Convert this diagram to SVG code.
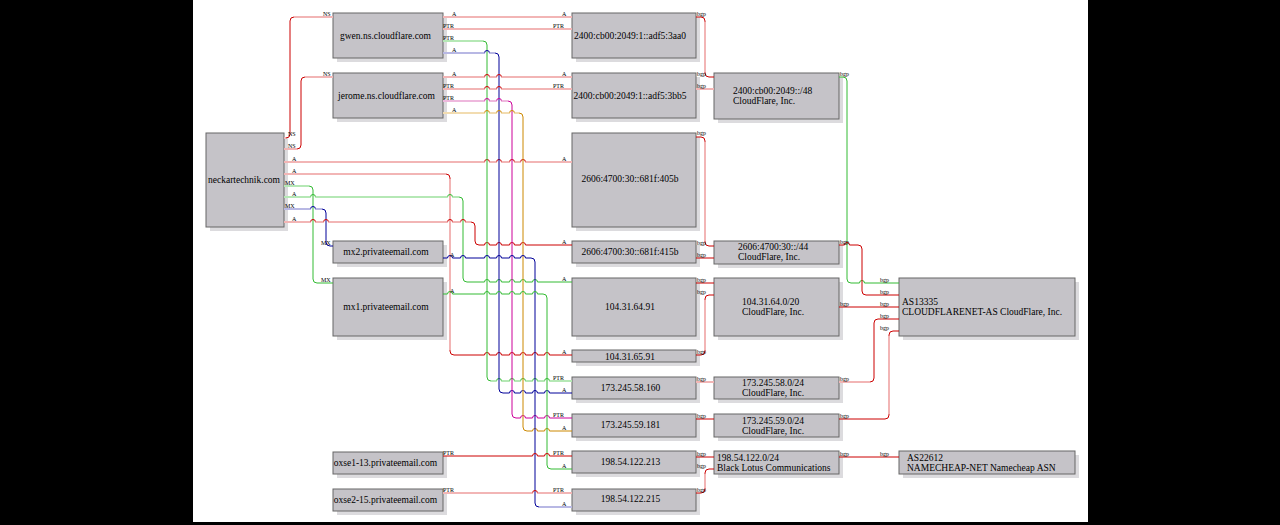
<svg xmlns="http://www.w3.org/2000/svg" width="1280" height="525" viewBox="0 0 1280 525">
<style>
.bg{fill:#000}
.page{fill:#fff}
.s{fill:#dcdbde}
.bx{fill:#c5c3c8;stroke:#666;stroke-width:1}
.n{font-family:"Liberation Serif","Times New Roman",serif;font-size:9.5px;fill:#000}
.c{text-anchor:middle}
.l{font-family:"Liberation Serif","Times New Roman",serif;font-size:6px;fill:#000}
.e{fill:none;stroke-width:1}
.p{fill:none;stroke-width:2}
.r{stroke:#cc0000}.g{stroke:#33bb33}.b{stroke:#000099}.m{stroke:#cc0099}.o{stroke:#cc8800}
.pr{stroke:#f2b5b5}.pg{stroke:#b5e8b5}.pb{stroke:#b8b8e4}.pm{stroke:#eeb8dd}.po{stroke:#f2dcb0}
</style>
<rect class="bg" x="0" y="0" width="1280" height="525"/>
<rect class="page" x="193" y="0" width="895" height="522"/>

<g id="node-gwen"><rect class="s" x="337" y="17" width="110" height="45"/><rect class="bx" x="333" y="13" width="110" height="45"/><text class="n c" x="385.5" y="39">gwen.ns.cloudflare.com</text></g>
<g id="node-jerome"><rect class="s" x="337" y="77" width="110" height="45"/><rect class="bx" x="333" y="73" width="110" height="45"/><text class="n c" x="386.5" y="99">jerome.ns.cloudflare.com</text></g>
<g id="node-neckartechnik"><rect class="s" x="210" y="137" width="78" height="94"/><rect class="bx" x="206" y="133" width="78" height="94"/><text class="n c" x="244" y="183">neckartechnik.com</text></g>
<g id="node-mx2"><rect class="s" x="337" y="245" width="110" height="22"/><rect class="bx" x="333" y="241" width="110" height="22"/><text class="n c" x="386" y="255">mx2.privateemail.com</text></g>
<g id="node-mx1"><rect class="s" x="337" y="282" width="110" height="58"/><rect class="bx" x="333" y="278" width="110" height="58"/><text class="n c" x="386" y="310">mx1.privateemail.com</text></g>
<g id="node-oxse1"><rect class="s" x="337" y="456" width="110" height="22"/><rect class="bx" x="333" y="452" width="110" height="22"/><text class="n c" x="385.5" y="466">oxse1-13.privateemail.com</text></g>
<g id="node-oxse2"><rect class="s" x="337" y="493" width="110" height="22"/><rect class="bx" x="333" y="489" width="110" height="22"/><text class="n c" x="385.5" y="503">oxse2-15.privateemail.com</text></g>

<g id="node-3aa0"><rect class="s" x="576" y="17" width="124" height="45"/><rect class="bx" x="572" y="13" width="124" height="45"/><text class="n c" x="630" y="39">2400:cb00:2049:1::adf5:3aa0</text></g>
<g id="node-3bb5"><rect class="s" x="576" y="77" width="124" height="45"/><rect class="bx" x="572" y="73" width="124" height="45"/><text class="n c" x="630" y="99">2400:cb00:2049:1::adf5:3bb5</text></g>
<g id="node-405b"><rect class="s" x="576" y="137" width="124" height="94"/><rect class="bx" x="572" y="133" width="124" height="94"/><text class="n c" x="630" y="182">2606:4700:30::681f:405b</text></g>
<g id="node-415b"><rect class="s" x="576" y="245" width="124" height="22"/><rect class="bx" x="572" y="241" width="124" height="22"/><text class="n c" x="630" y="255">2606:4700:30::681f:415b</text></g>
<g id="node-6491"><rect class="s" x="576" y="282" width="124" height="58"/><rect class="bx" x="572" y="278" width="124" height="58"/><text class="n c" x="630" y="310">104.31.64.91</text></g>
<g id="node-6591"><rect class="s" x="576" y="354" width="124" height="12"/><rect class="bx" x="572" y="350" width="124" height="12"/><text class="n c" x="630" y="359.5">104.31.65.91</text></g>
<g id="node-58160"><rect class="s" x="576" y="381" width="124" height="22"/><rect class="bx" x="572" y="377" width="124" height="22"/><text class="n c" x="630.5" y="391">173.245.58.160</text></g>
<g id="node-59181"><rect class="s" x="576" y="418" width="124" height="23"/><rect class="bx" x="572" y="414" width="124" height="23"/><text class="n c" x="630.5" y="428">173.245.59.181</text></g>
<g id="node-213"><rect class="s" x="576" y="455" width="124" height="22"/><rect class="bx" x="572" y="451" width="124" height="22"/><text class="n c" x="630.5" y="465">198.54.122.213</text></g>
<g id="node-215"><rect class="s" x="576" y="493" width="124" height="22"/><rect class="bx" x="572" y="489" width="124" height="22"/><text class="n c" x="630.5" y="502">198.54.122.215</text></g>

<g id="node-net48"><rect class="s" x="718" y="77" width="125" height="46"/><rect class="bx" x="714" y="73" width="125" height="46"/><text class="n" x="733" y="94">2400:cb00:2049::/48</text><text class="n" x="733" y="104">CloudFlare, Inc.</text></g>
<g id="node-net44"><rect class="s" x="718" y="245" width="125" height="23"/><rect class="bx" x="714" y="241" width="125" height="23"/><text class="n" x="738" y="250">2606:4700:30::/44</text><text class="n" x="738" y="260">CloudFlare, Inc.</text></g>
<g id="node-net20"><rect class="s" x="718" y="282" width="125" height="58"/><rect class="bx" x="714" y="278" width="125" height="58"/><text class="n" x="742" y="305">104.31.64.0/20</text><text class="n" x="742" y="315">CloudFlare, Inc.</text></g>
<g id="node-net58"><rect class="s" x="718" y="381" width="125" height="22"/><rect class="bx" x="714" y="377" width="125" height="22"/><text class="n" x="742" y="386">173.245.58.0/24</text><text class="n" x="742" y="396">CloudFlare, Inc.</text></g>
<g id="node-net59"><rect class="s" x="718" y="418" width="125" height="23"/><rect class="bx" x="714" y="414" width="125" height="23"/><text class="n" x="742" y="423.5">173.245.59.0/24</text><text class="n" x="742" y="433.5">CloudFlare, Inc.</text></g>
<g id="node-net122"><rect class="s" x="718" y="455" width="125" height="23"/><rect class="bx" x="714" y="451" width="125" height="23"/><text class="n" x="717" y="461">198.54.122.0/24</text><text class="n" x="717" y="471">Black Lotus Communications</text></g>
<g id="node-as13335"><rect class="s" x="903" y="282" width="176" height="58"/><rect class="bx" x="899" y="278" width="176" height="58"/><text class="n" x="902" y="305">AS13335</text><text class="n" x="902" y="315">CLOUDFLARENET-AS CloudFlare, Inc.</text></g>
<g id="node-as22612"><rect class="s" x="903" y="455" width="176" height="23"/><rect class="bx" x="899" y="451" width="176" height="23"/><text class="n" x="907" y="461">AS22612</text><text class="n" x="907" y="471">NAMECHEAP-NET Namecheap ASN</text></g>

<g id="connectors">
<path class="e r" d="M284,138 H286 Q290,138 290,134 V21 Q290,17 294,17 H333"/>
<path class="p pr" d="M284,138 H286 M294,17 H333"/>
<path class="e r" d="M284,149 H297 Q301,149 301,145 V81 Q301,77 305,77 H333"/>
<path class="p pr" d="M284,149 H297 M305,77 H333"/>
<path class="e r" d="M284,162 H484.5 a2.5,2.5 0 0 1 5,0 H496.5 a2.5,2.5 0 0 1 5,0 H509.5 a2.5,2.5 0 0 1 5,0 H520.5 a2.5,2.5 0 0 1 5,0 H572"/>
<path class="p pr" d="M284,162 H484.5 M489.5,162 H496.5 M501.5,162 H509.5 M514.5,162 H520.5 M525.5,162 H572"/>
<path class="e r" d="M284,174 H446 Q450,174 450,178 V351 Q450,355 454,355 H484.5 a2.5,2.5 0 0 1 5,0 H496.5 a2.5,2.5 0 0 1 5,0 H509.5 a2.5,2.5 0 0 1 5,0 H520.5 a2.5,2.5 0 0 1 5,0 H532.5 a2.5,2.5 0 0 1 5,0 H544.5 a2.5,2.5 0 0 1 5,0 H572"/>
<path class="p pr" d="M284,174 H446 M450,179 V350"/>
<path class="e g" d="M284,186 H309 Q313,186 313,190 V279 Q313,283 317,283 H333"/>
<path class="p pg" d="M284,186 H309"/>
<path class="e g" d="M284,197 H310.5 a2.5,2.5 0 0 1 5,0 H447.5 a2.5,2.5 0 0 1 5,0 H459 Q463,197 463,201 V278 Q463,282 467,282 H484.5 a2.5,2.5 0 0 1 5,0 H496.5 a2.5,2.5 0 0 1 5,0 H509.5 a2.5,2.5 0 0 1 5,0 H520.5 a2.5,2.5 0 0 1 5,0 H532.5 a2.5,2.5 0 0 1 5,0 H572"/>
<path class="p pg" d="M284,197 H310.5 M315.5,197 H447.5 M452.5,197 H459"/>
<path class="e b" d="M284,209 H310.5 a2.5,2.5 0 0 1 5,0 H322 Q326,209 326,213 V242 Q326,246 330,246 H333"/>
<path class="p pb" d="M284,209 H310.5 M315.5,209 H322"/>
<path class="e r" d="M284,222 H310.5 a2.5,2.5 0 0 1 5,0 H323.5 a2.5,2.5 0 0 1 5,0 H447.5 a2.5,2.5 0 0 1 5,0 H460.5 a2.5,2.5 0 0 1 5,0 H471 Q475,222 475,226 V241 Q475,245 479,245 H484.5 a2.5,2.5 0 0 1 5,0 H496.5 a2.5,2.5 0 0 1 5,0 H509.5 a2.5,2.5 0 0 1 5,0 H520.5 a2.5,2.5 0 0 1 5,0 H572"/>
<path class="p pr" d="M284,222 H310.5 M315.5,222 H323.5 M328.5,222 H447.5 M452.5,222 H460.5 M465.5,222 H471"/>

<path class="p pr" d="M443,17 H572 M443,29 H572"/>
<path class="e g" d="M443,41 H483 Q487,41 487,45 V377 Q487,381 491,381 H496.5 a2.5,2.5 0 0 1 5,0 H509.5 a2.5,2.5 0 0 1 5,0 H520.5 a2.5,2.5 0 0 1 5,0 H532.5 a2.5,2.5 0 0 1 5,0 H544.5 a2.5,2.5 0 0 1 5,0 H572"/>
<path class="p pg" d="M443,41 H483 M491,381 H496.5 M501.5,381 H509.5 M514.5,381 H520.5 M525.5,381 H532.5 M537.5,381 H544.5 M549.5,381 H572"/>
<path class="e b" d="M443,53 H484.5 a2.5,2.5 0 0 1 5,0 H495 Q499,53 499,57 V389 Q499,393 503,393 H509.5 a2.5,2.5 0 0 1 5,0 H520.5 a2.5,2.5 0 0 1 5,0 H532.5 a2.5,2.5 0 0 1 5,0 H544.5 a2.5,2.5 0 0 1 5,0 H572"/>
<path class="p pb" d="M443,53 H484.5 M489.5,53 H495"/>
<path class="e r" d="M443,77 H484.5 a2.5,2.5 0 0 1 5,0 H496.5 a2.5,2.5 0 0 1 5,0 H572 M443,89 H484.5 a2.5,2.5 0 0 1 5,0 H496.5 a2.5,2.5 0 0 1 5,0 H572"/>
<path class="p pr" d="M443,77 H484.5 M489.5,77 H496.5 M501.5,77 H572 M443,89 H484.5 M489.5,89 H496.5 M501.5,89 H572"/>
<path class="e m" d="M443,101 H484.5 a2.5,2.5 0 0 1 5,0 H496.5 a2.5,2.5 0 0 1 5,0 H508 Q512,101 512,105 V414 Q512,418 516,418 H520.5 a2.5,2.5 0 0 1 5,0 H532.5 a2.5,2.5 0 0 1 5,0 H544.5 a2.5,2.5 0 0 1 5,0 H572"/>
<path class="p pm" d="M443,101 H484.5 M489.5,101 H496.5 M501.5,101 H508"/>
<path class="e o" d="M443,113 H484.5 a2.5,2.5 0 0 1 5,0 H496.5 a2.5,2.5 0 0 1 5,0 H509.5 a2.5,2.5 0 0 1 5,0 H519 Q523,113 523,117 V427 Q523,431 527,431 H532.5 a2.5,2.5 0 0 1 5,0 H544.5 a2.5,2.5 0 0 1 5,0 H572"/>
<path class="p po" d="M443,113 H484.5 M489.5,113 H496.5 M501.5,113 H509.5 M514.5,113 H519"/>
<path class="e b" d="M443,258 H447.5 a2.5,2.5 0 0 1 5,0 H460.5 a2.5,2.5 0 0 1 5,0 H484.5 a2.5,2.5 0 0 1 5,0 H496.5 a2.5,2.5 0 0 1 5,0 H509.5 a2.5,2.5 0 0 1 5,0 H520.5 a2.5,2.5 0 0 1 5,0 H531 Q535,258 535,262 V503 Q535,507 539,507 H572"/>
<path class="p pb" d="M539,507 H572"/>
<path class="e g" d="M443,294 H447.5 a2.5,2.5 0 0 1 5,0 H484.5 a2.5,2.5 0 0 1 5,0 H496.5 a2.5,2.5 0 0 1 5,0 H509.5 a2.5,2.5 0 0 1 5,0 H520.5 a2.5,2.5 0 0 1 5,0 H532.5 a2.5,2.5 0 0 1 5,0 H543 Q547,294 547,298 V465 Q547,469 551,469 H572"/>
<path class="e r" d="M443,456 H532.5 a2.5,2.5 0 0 1 5,0 H544.5 a2.5,2.5 0 0 1 5,0 H572"/>
<path class="e r" d="M443,493 H532.5 a2.5,2.5 0 0 1 5,0 H572"/>
<path class="p pr" d="M443,493 H532.5 M537.5,493 H572"/>

<path class="e r" d="M696,17 H701 Q705,17 705,21 V73 Q705,77 709,77 H714"/>
<path class="p pr" d="M705,22 V72 M696,89 H714"/>
<path class="e r" d="M696,137 H701 Q705,137 705,141 V242 Q705,246 709,246 H714"/>
<path class="p pr" d="M705,142 V241"/>
<path class="e r" d="M696,258 H714 M696,283 H714"/>
<path class="e r" d="M696,355 H701 Q705,355 705,351 V299 Q705,295 709,295 H714"/>
<path class="p pr" d="M705,350 V300 M696,382 H714"/>
<path class="e r" d="M696,419 H714 M696,457 H714"/>
<path class="e r" d="M696,493 H701 Q705,493 705,489 V473 Q705,469 709,469 H714"/>
<path class="p pr" d="M705,488 V474"/>
<path class="e g" d="M839,77 H843 Q847,77 847,81 V279 Q847,283 851,283 H859.5 a2.5,2.5 0 0 1 5,0 H899"/>
<path class="e r" d="M839,245 H844.5 a2.5,2.5 0 0 1 5,0 H858 Q862,245 862,249 V291 Q862,295 866,295 H899"/>
<path class="e r" d="M839,307 H899"/>
<path class="e r" d="M839,382 H870 Q874,382 874,378 V323 Q874,319 878,319 H899"/>
<path class="p pr" d="M839,382 H870"/>
<path class="e r" d="M839,419 H885 Q889,419 889,415 V335 Q889,331 893,331 H899"/>
<path class="p pr" d="M889,414 V336"/>
<path class="e r" d="M839,457 H899"/>
</g>

<g id="connector-labels" class="l">
<text x="288" y="136">NS</text><text x="288" y="147.5">NS</text>
<text x="292" y="160.5">A</text><text x="292" y="172.5">A</text>
<text x="285" y="184.5">MX</text><text x="292" y="195.5">A</text>
<text x="285" y="207.5">MX</text><text x="292" y="220.5">A</text>
<text x="323" y="15.5">NS</text><text x="323" y="75.5">NS</text>
<text x="321" y="244.5">MX</text><text x="321" y="281.5">MX</text>
<text x="562" y="160.5">A</text><text x="562" y="243.5">A</text><text x="562" y="280.5">A</text><text x="562" y="353.5">A</text>
<text x="452" y="15.5">A</text><text x="443" y="27.5">PTR</text><text x="443" y="39.5">PTR</text><text x="452" y="51.5">A</text>
<text x="562" y="15.5">A</text><text x="553" y="27.5">PTR</text><text x="553" y="379.5">PTR</text><text x="562" y="391.5">A</text>
<text x="452" y="75.5">A</text><text x="443" y="87.5">PTR</text><text x="443" y="99.5">PTR</text><text x="452" y="111.5">A</text>
<text x="562" y="75.5">A</text><text x="553" y="87.5">PTR</text><text x="553" y="416.5">PTR</text><text x="562" y="429.5">A</text>
<text x="450" y="256.5">A</text><text x="562" y="505.5">A</text>
<text x="450" y="292.5">A</text><text x="562" y="467.5">A</text>
<text x="443" y="454.5">PTR</text><text x="553" y="454.5">PTR</text>
<text x="443" y="491.5">PTR</text><text x="553" y="491.5">PTR</text>
<text x="697" y="15.5">bgp</text><text x="697" y="75.5">bgp</text><text x="697" y="87.5">bgp</text>
<text x="697" y="135">bgp</text><text x="697" y="244.5">bgp</text><text x="697" y="256.5">bgp</text>
<text x="697" y="281.5">bgp</text><text x="697" y="293.5">bgp</text><text x="697" y="353.5">bgp</text>
<text x="697" y="380.5">bgp</text><text x="697" y="417.5">bgp</text><text x="697" y="455.5">bgp</text>
<text x="697" y="467.5">bgp</text><text x="697" y="491.5">bgp</text>
<text x="840" y="75.5">bgp</text><text x="840" y="243.5">bgp</text><text x="840" y="305.5">bgp</text>
<text x="840" y="380.5">bgp</text><text x="840" y="417.5">bgp</text><text x="840" y="455.5">bgp</text>
<text x="880" y="281.5">bgp</text><text x="880" y="293.5">bgp</text><text x="880" y="305.5">bgp</text>
<text x="880" y="317.5">bgp</text><text x="880" y="329.5">bgp</text><text x="880" y="455.5">bgp</text>
</g>
</svg>
